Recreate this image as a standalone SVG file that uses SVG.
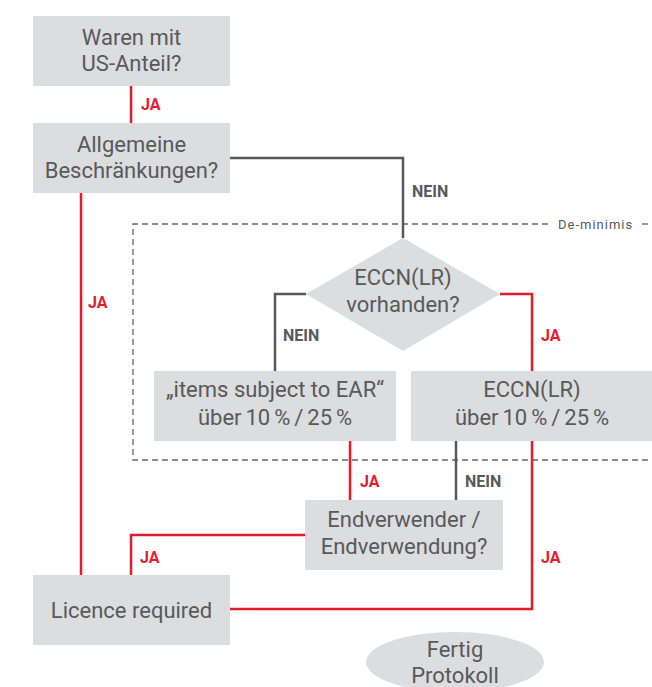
<svg xmlns="http://www.w3.org/2000/svg" width="652" height="687" viewBox="0 0 652 687">
<style>
.box{fill:#dcdddf}
.t{font-family:Roboto,"Liberation Sans",sans-serif;font-size:22px;fill:#58595b;text-anchor:middle}
.pct{word-spacing:-1.5px}
.lab{font-family:Roboto,"Liberation Sans",sans-serif;font-size:16px;font-weight:bold}
.ja{fill:#e31b2b}
.nein{fill:#58595b}
.red{stroke:#e31b2b;stroke-width:2.5;fill:none}
.gray{stroke:#58595b;stroke-width:2.5;fill:none}
.dash{stroke:#666;stroke-width:1.3;stroke-dasharray:6 4;fill:none}
</style>
<rect width="652" height="687" fill="#fff"/>
<g id="deminimis">
<path class="dash" d="M548,224 H133 V460 H652"/>
<path class="dash" d="M642,224 H652"/>
<text x="558" y="228.5" font-family="Roboto,'Liberation Sans',sans-serif" font-size="13" letter-spacing="1" fill="#58595b">De-minimis</text>
</g>
<g id="connectors">
<path class="red" d="M131,86 V123"/>
<path class="gray" d="M230,158 H403 V238"/>
<path class="red" d="M81,193 V575"/>
<path class="gray" d="M306,294 H275 V371"/>
<path class="red" d="M500,294 H532 V371"/>
<path class="red" d="M350,441 V500"/>
<path class="gray" d="M456,441 V500"/>
<path class="red" d="M532,441 V609 H230"/>
<path class="red" d="M305,535 H131 V575"/>
<text class="lab ja" x="141" y="110">JA</text>
<text class="lab nein" x="412" y="197">NEIN</text>
<text class="lab ja" x="88" y="308">JA</text>
<text class="lab nein" x="283" y="341">NEIN</text>
<text class="lab ja" x="541" y="341">JA</text>
<text class="lab ja" x="360" y="487">JA</text>
<text class="lab nein" x="465" y="487">NEIN</text>
<text class="lab ja" x="140" y="563">JA</text>
<text class="lab ja" x="541" y="563">JA</text>
</g>
<g id="n1"><rect class="box" x="33" y="16" width="197" height="70"/><text class="t" x="131.5" y="45">Waren mit</text><text class="t" x="131.5" y="71">US-Anteil?</text></g>
<g id="n2"><rect class="box" x="33" y="123" width="197" height="70"/><text class="t" x="131.5" y="152">Allgemeine</text><text class="t" x="131.5" y="178">Beschränkungen?</text></g>
<g id="n3"><polygon class="box" points="403,238 500,294 403,351 306,294"/><text class="t" x="403" y="285">ECCN(LR)</text><text class="t" x="403" y="312">vorhanden?</text></g>
<g id="n4"><rect class="box" x="154" y="371" width="242" height="70"/><text class="t" x="275" y="397">„items subject to EAR“</text><text class="t pct" x="275" y="425">über 10 % / 25 %</text></g>
<g id="n5"><rect class="box" x="411" y="371" width="241" height="70"/><text class="t" x="532" y="397">ECCN(LR)</text><text class="t pct" x="532" y="425">über 10 % / 25 %</text></g>
<g id="n6"><rect class="box" x="305" y="500" width="198" height="70"/><text class="t" x="404" y="527">Endverwender /</text><text class="t" x="404" y="554">Endverwendung?</text></g>
<g id="n7"><rect class="box" x="33" y="575" width="197" height="70"/><text class="t" x="131.5" y="618">Licence required</text></g>
<g id="n8"><ellipse class="box" cx="455" cy="662" rx="89" ry="30"/><text class="t" x="455" y="657">Fertig</text><text class="t" x="455" y="683">Protokoll</text></g>
</svg>
